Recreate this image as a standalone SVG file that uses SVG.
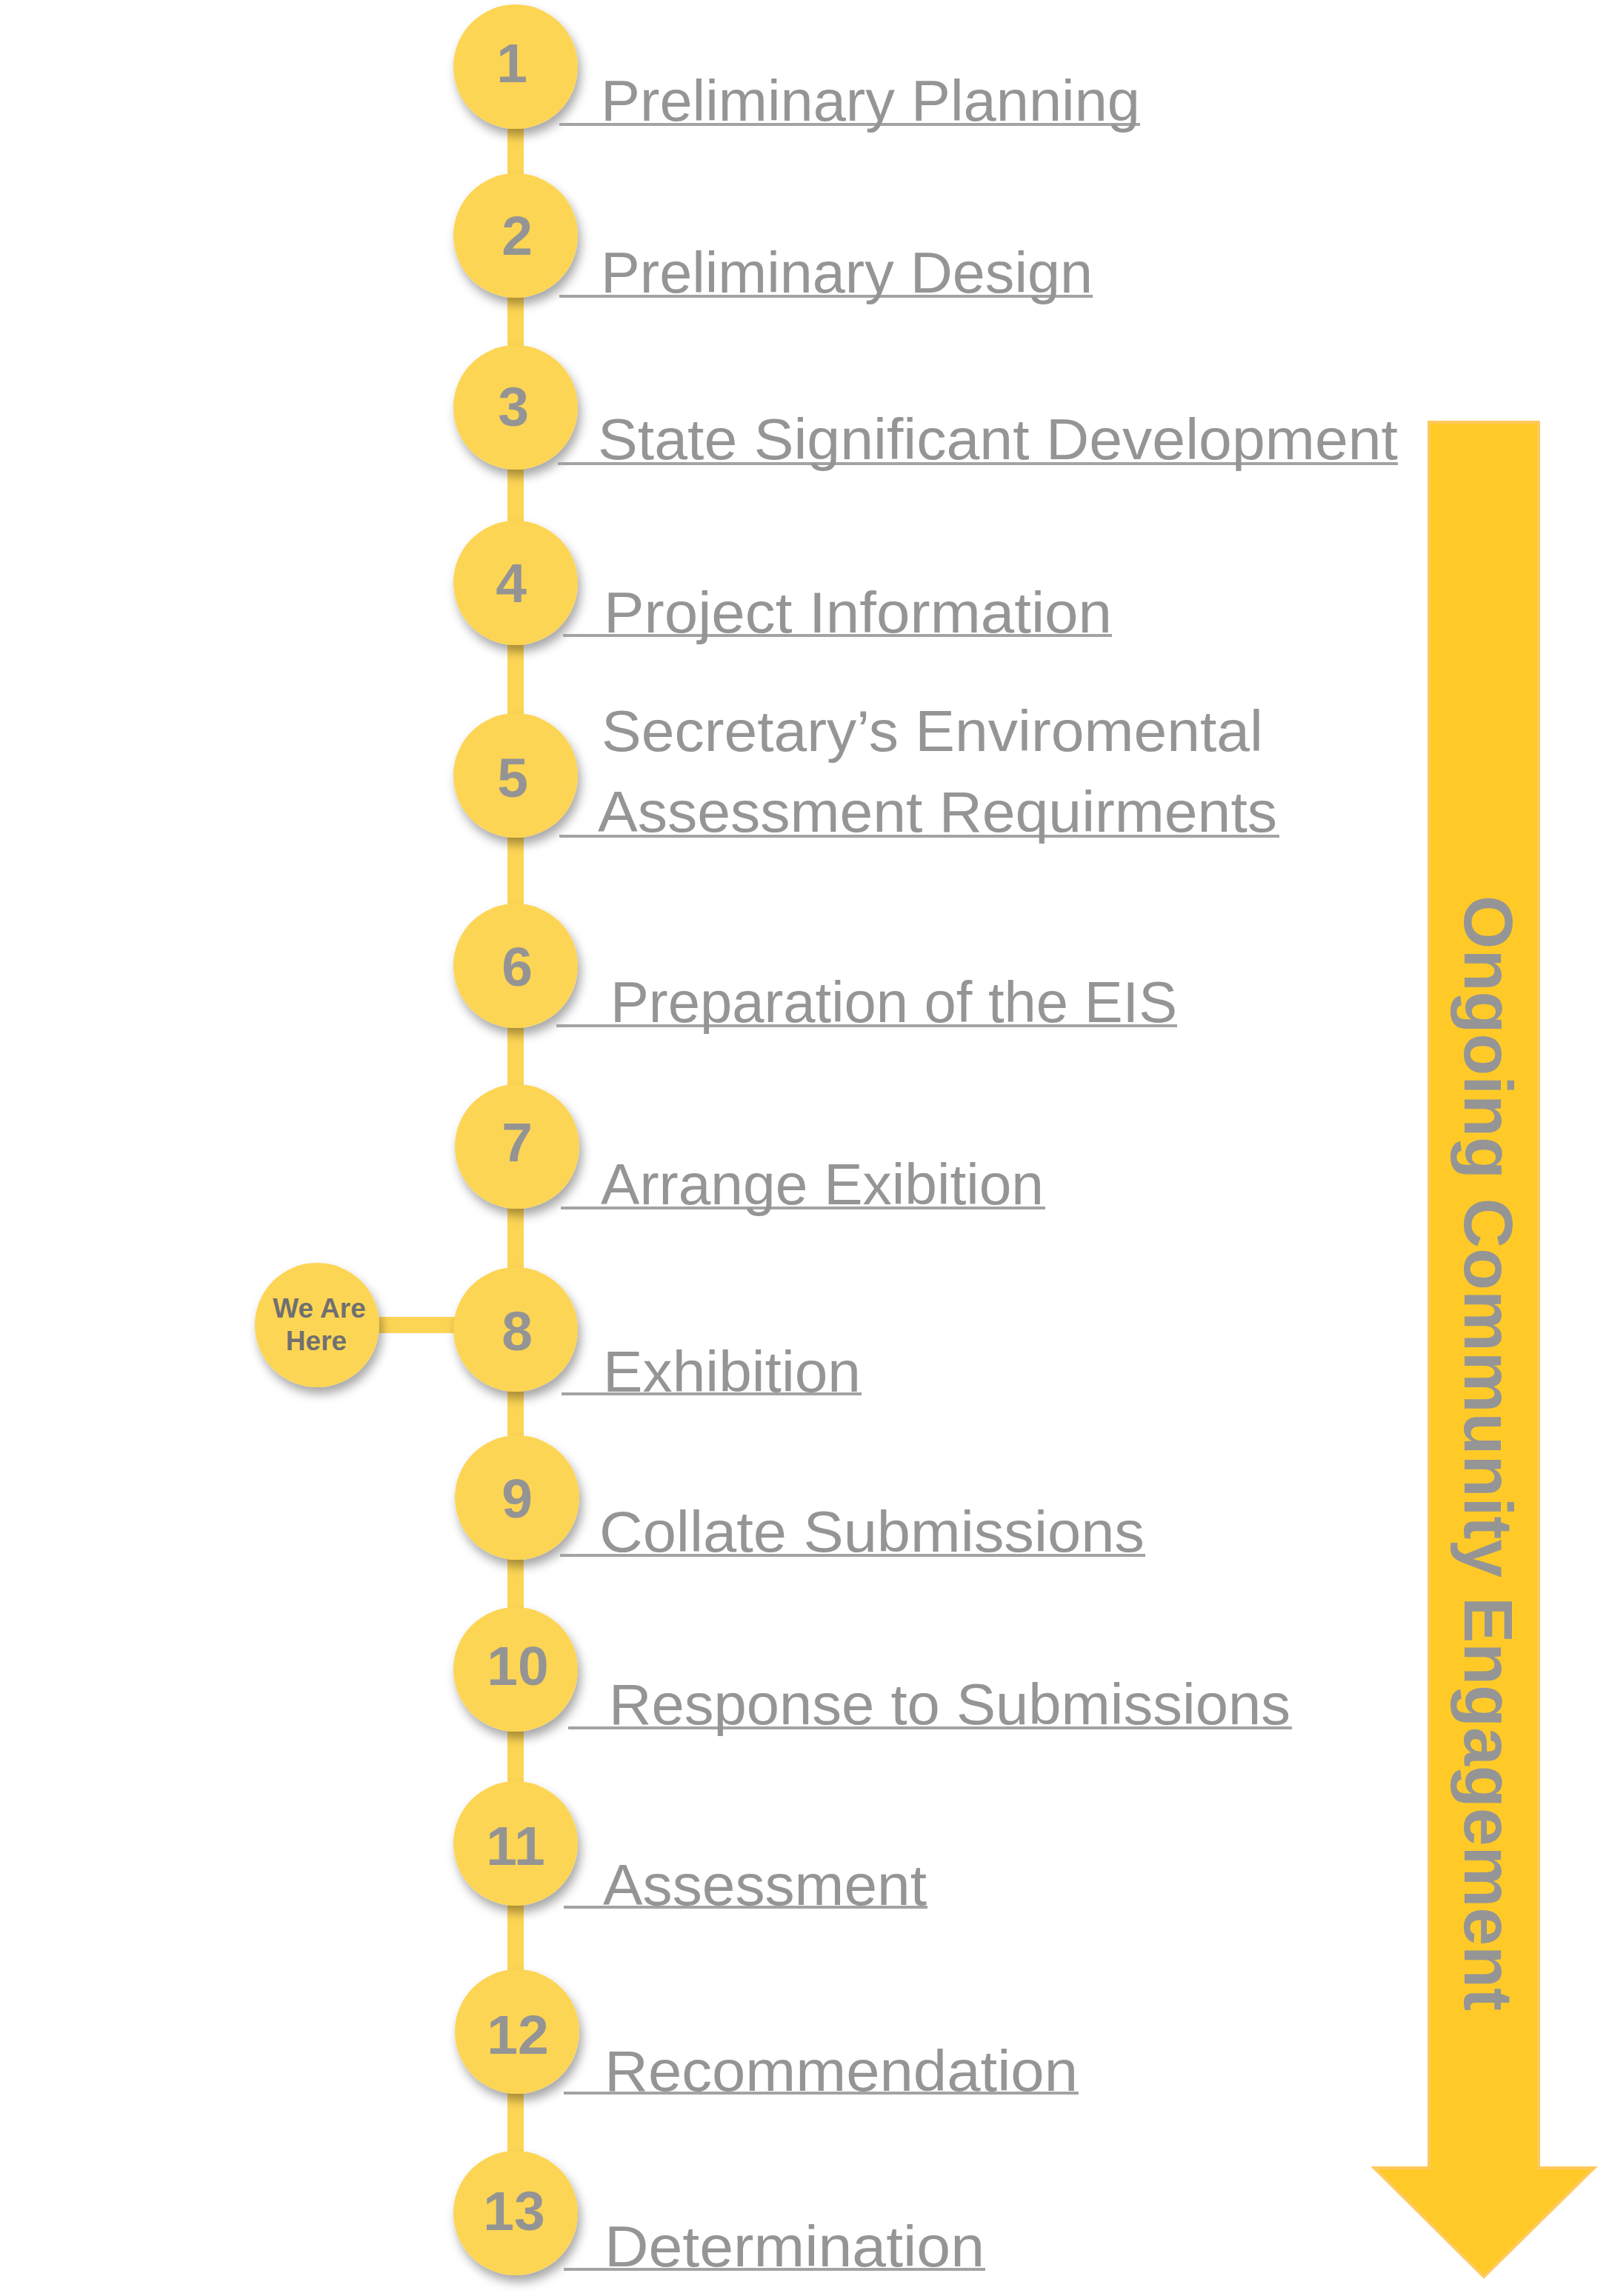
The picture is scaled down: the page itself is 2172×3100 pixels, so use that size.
<svg xmlns="http://www.w3.org/2000/svg" width="2172" height="3100" viewBox="0 0 2172 3100">
<defs>
<filter id="sh" x="-40%" y="-40%" width="180%" height="190%">
<feDropShadow dx="4" dy="9" stdDeviation="7" flood-color="#000" flood-opacity="0.35"/>
</filter>
<style>
.c{fill:#FDD555;filter:url(#sh)}
.n{font-family:"Liberation Sans",Arial,sans-serif;font-weight:bold;font-size:75px;fill:#949494;text-anchor:middle}
.t{font-family:"Liberation Sans",Arial,sans-serif;font-size:78px;fill:#959595}
.u{stroke:#A3A3A3;stroke-width:4}
.w{font-family:"Liberation Sans",Arial,sans-serif;font-weight:bold;font-size:37px;fill:#707070;text-anchor:middle}
.k{stroke:#FDD555;stroke-width:22;fill:none}
</style>
</defs>
<rect width="2172" height="3100" fill="#fff"/>
<g id="connectors">
<line class="k" x1="696" y1="90" x2="696" y2="2988"/>
<line class="k" x1="428" y1="1789" x2="696" y2="1789"/>
</g>
<g id="arrow">
<path d="M1929,570 H2077 V2927 H2152 L2003,3074 L1855,2927 H1929 Z" fill="#FFCA28" stroke="#FFC95C" stroke-width="4"/>
<text transform="translate(1977,1962) rotate(90)" x="0" y="0" text-anchor="middle" font-family="'Liberation Sans',Arial,sans-serif" font-weight="bold" font-size="93" fill="#959595" textLength="1506" lengthAdjust="spacingAndGlyphs">Ongoing Community Engagement</text>
</g>
<g id="here">
<circle class="c" cx="428" cy="1789" r="84"/>
<text class="w" x="431" y="1779">We Are</text>
<text class="w" x="427" y="1823">Here</text>
</g>
<g id="s1"><circle class="c" cx="696" cy="90" r="84"/><text class="n" x="691" y="111">1</text>
<line class="u" x1="755" y1="168" x2="1539" y2="168"/><text class="t" x="811" y="163" textLength="728" lengthAdjust="spacingAndGlyphs">Preliminary Planning</text></g>
<g id="s2"><circle class="c" cx="696" cy="318" r="84"/><text class="n" x="698" y="344">2</text>
<line class="u" x1="755" y1="400" x2="1475" y2="400"/><text class="t" x="811" y="395" textLength="664" lengthAdjust="spacingAndGlyphs">Preliminary Design</text></g>
<g id="s3"><circle class="c" cx="696" cy="550" r="84"/><text class="n" x="693" y="575">3</text>
<line class="u" x1="753" y1="626" x2="1887" y2="626"/><text class="t" x="807" y="620" textLength="1080" lengthAdjust="spacingAndGlyphs">State Significant Development</text></g>
<g id="s4"><circle class="c" cx="696" cy="787" r="84"/><text class="n" x="690" y="813">4</text>
<line class="u" x1="760" y1="858" x2="1501" y2="858"/><text class="t" x="815" y="854" textLength="686" lengthAdjust="spacingAndGlyphs">Project Information</text></g>
<g id="s5"><circle class="c" cx="696" cy="1047" r="84"/><text class="n" x="692" y="1076">5</text>
<text class="t" x="812" y="1014" textLength="893" lengthAdjust="spacingAndGlyphs">Secretary’s Enviromental</text>
<line class="u" x1="755" y1="1129" x2="1727" y2="1129"/><text class="t" x="807" y="1123" textLength="917" lengthAdjust="spacingAndGlyphs">Assessment Requirments</text></g>
<g id="s6"><circle class="c" cx="696" cy="1304" r="84"/><text class="n" x="698" y="1331">6</text>
<line class="u" x1="751" y1="1385" x2="1589" y2="1385"/><text class="t" x="824" y="1380" textLength="765" lengthAdjust="spacingAndGlyphs">Preparation of the EIS</text></g>
<g id="s7"><circle class="c" cx="698" cy="1548" r="84"/><text class="n" x="698" y="1568">7</text>
<line class="u" x1="757" y1="1631" x2="1411" y2="1631"/><text class="t" x="811" y="1626" textLength="598" lengthAdjust="spacingAndGlyphs">Arrange Exibition</text></g>
<g id="s8"><circle class="c" cx="696" cy="1795" r="84"/><text class="n" x="698" y="1823">8</text>
<line class="u" x1="758" y1="1882" x2="1163" y2="1882"/><text class="t" x="814" y="1879" textLength="348" lengthAdjust="spacingAndGlyphs">Exhibition</text></g>
<g id="s9"><circle class="c" cx="698" cy="2022" r="84"/><text class="n" x="698" y="2049">9</text>
<line class="u" x1="756" y1="2100" x2="1546" y2="2100"/><text class="t" x="809" y="2095" textLength="736" lengthAdjust="spacingAndGlyphs">Collate Submissions</text></g>
<g id="s10"><circle class="c" cx="696" cy="2254" r="84"/><text class="n" x="699" y="2275">10</text>
<line class="u" x1="767" y1="2333" x2="1744" y2="2333"/><text class="t" x="822" y="2328" textLength="920" lengthAdjust="spacingAndGlyphs">Response to Submissions</text></g>
<g id="s11"><circle class="c" cx="696" cy="2489" r="84"/><text class="n" x="696" y="2518">11</text>
<line class="u" x1="761" y1="2575" x2="1252" y2="2575"/><text class="t" x="814" y="2572" textLength="437" lengthAdjust="spacingAndGlyphs">Assessment</text></g>
<g id="s12"><circle class="c" cx="698" cy="2743" r="84"/><text class="n" x="699" y="2773">12</text>
<line class="u" x1="761" y1="2826" x2="1456" y2="2826"/><text class="t" x="816" y="2823" textLength="639" lengthAdjust="spacingAndGlyphs">Recommendation</text></g>
<g id="s13"><circle class="c" cx="696" cy="2988" r="84"/><text class="n" x="694" y="3011">13</text>
<line class="u" x1="761" y1="3064" x2="1330" y2="3064"/><text class="t" x="816" y="3060" textLength="513" lengthAdjust="spacingAndGlyphs">Determination</text></g>
</svg>
